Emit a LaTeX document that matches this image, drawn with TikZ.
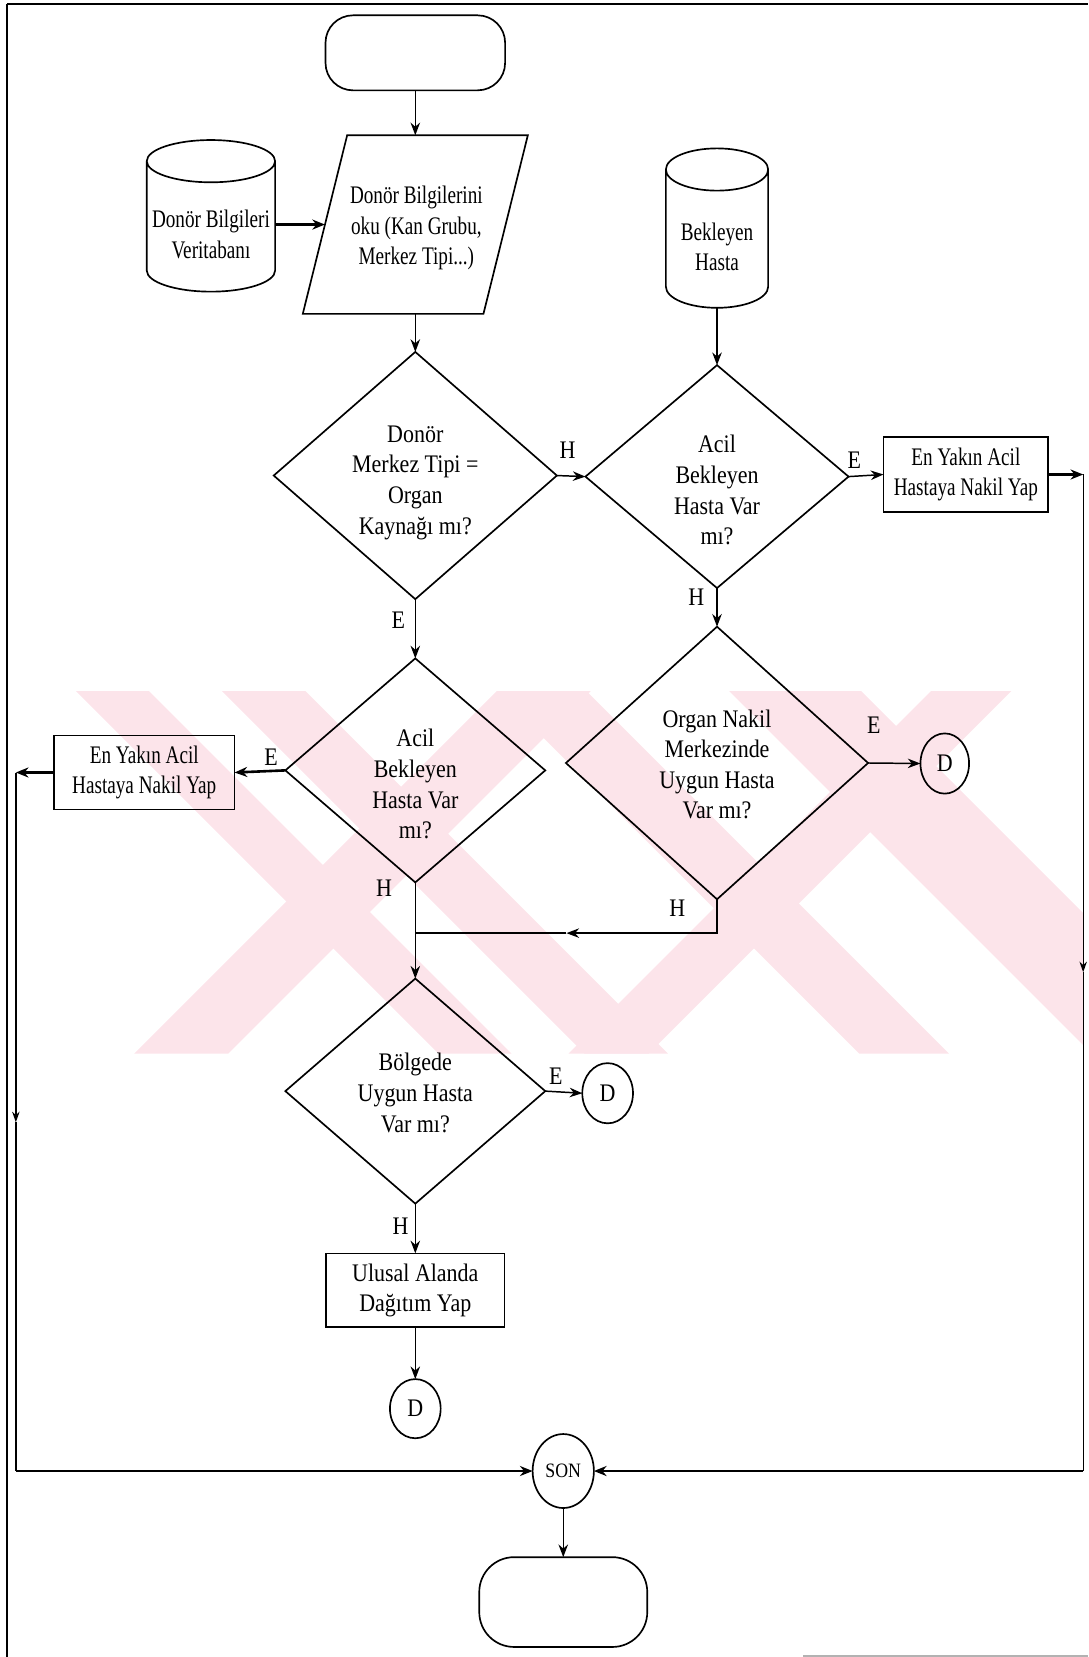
\documentclass[tikz,border=0pt]{standalone}
\usepackage{fontspec}
\setmainfont{Liberation Serif}
\newfontfamily\condA[FakeStretch=0.87]{Liberation Serif}
\newfontfamily\condB[FakeStretch=0.76]{Liberation Serif}
\usetikzlibrary{shapes.geometric, arrows.meta}
\definecolor{wmark}{RGB}{252,228,234}

\begin{document}
\begin{tikzpicture}[x=0.02cm, y=-0.02cm,
  every node/.style={inner sep=0pt, outer sep=0pt},
  shp/.style={draw, line width=0.9pt},
  dec/.style={shp, diamond},
  box/.style={shp, rectangle},
  term/.style={shp, rectangle},
  conn/.style={shp, ellipse, font=\condA\fontsize{13.6}{16.5}\selectfont},
  txt/.style={font=\condA\fontsize{13.6}{16.5}\selectfont, align=center},
  txtn/.style={font=\condB\fontsize{13.6}{16.5}\selectfont, align=center},
  lbl/.style={font=\condA\fontsize{13.6}{16.5}\selectfont},
  line/.style={line width=0.8pt},
  arr/.style={line width=0.8pt, -{Stealth[length=2.4mm,width=1.8mm]}},
  heavy/.style={line width=1.4pt, -{Stealth[length=2.4mm,width=1.9mm]}},
  rail/.style={line width=0.7pt},
  railarr/.style={line width=0.7pt, -{Stealth[length=2mm,width=1.4mm]}},
  band/.style={fill=wmark}
]
\useasboundingbox (0,0) rectangle (1030,1568);

% watermark: diagonal bands at 45 degrees, top span given, cut to a strip
\begin{scope}
  \clip (70,654) rectangle (1025,997);
  % falling bands
  \foreach \a/\b in {72/141, 210/289, 470/555, 690/815}
    \fill[band] (\a,654) -- (\b,654) -- (\b+343,997) -- (\a+343,997) -- cycle;
  % rising bands
  \foreach \a/\b in {470/559, 881/957}
    \fill[band] (\a,654) -- (\b,654) -- (\b-343,997) -- (\a-343,997) -- cycle;
\end{scope}

% page frame
\draw[line width=1.6pt] (6.6,3.8) -- (1030,3.8);
\draw[line width=0.8pt] (6.6,3.8) -- (6.6,1568);
\draw[gray!60, line width=0.8pt] (760,1567) -- (1030,1567);

% terminals
\node[term, rounded corners=5.2mm, minimum width=34mm, minimum height=14.2mm] (start) at (393,50) {};
\node[term, rounded corners=6.6mm, minimum width=31.8mm, minimum height=17mm] (stop) at (533,1516) {};

% input parallelogram
\node[minimum width=34.2mm, minimum height=33.8mm] (para) at (393,212.5) {};
\draw[shp] ([xshift=-4.2mm]para.south west) -- ([xshift=-4.2mm]para.south east)
  -- ([xshift=4.2mm]para.north east) -- ([xshift=4.2mm]para.north west) -- cycle;
\node[txtn] (parat) at (394,216) {Donör Bilgilerini\\oku (Kan Grubu,\\Merkez Tipi...)};

% databases
\node[minimum width=24.3mm, minimum height=28.7mm] (db) at (199.6,204.25) {};
\draw[shp] ([yshift=-4mm]db.north west) -- ([yshift=4mm]db.south west)
  arc[start angle=180, end angle=360, x radius=12.15mm, y radius=4mm]
  -- ([yshift=-4mm]db.north east)
  arc[start angle=0, end angle=360, x radius=12.15mm, y radius=4mm];
\node[txtn] (dbt) at (199.6,222) {Donör Bilgileri\\Veritabanı};

\node[minimum width=19.36mm, minimum height=30.18mm] (bh) at (678.5,215.85) {};
\draw[shp] ([yshift=-4mm]bh.north west) -- ([yshift=4mm]bh.south west)
  arc[start angle=180, end angle=360, x radius=9.68mm, y radius=4mm]
  -- ([yshift=-4mm]bh.north east)
  arc[start angle=0, end angle=360, x radius=9.68mm, y radius=4mm];
\node[txtn] (bht) at (678.5,233.5) {Bekleyen\\Hasta};

% decisions
\node[dec, minimum width=53.6mm, minimum height=46.8mm] (d1) at (393,450) {};
\node[txt] (d1t) at (393,456.8) {Donör\\Merkez Tipi =\\Organ\\Kaynağı mı?};

\node[dec, minimum width=49.8mm, minimum height=42.2mm] (d2) at (678.5,451) {};
\node[txt] (d2t) at (678.5,464) {Acil\\Bekleyen\\Hasta Var\\mı?};

\node[dec, minimum width=49.2mm, minimum height=42.4mm] (d3) at (393,729) {};
\node[txt] (d3t) at (393,742) {Acil\\Bekleyen\\Hasta Var\\mı?};

\node[dec, minimum width=57.2mm, minimum height=51.6mm] (d4) at (678.5,722) {};
\node[txt] (d4t) at (678.5,723.4) {Organ Nakil\\Merkezinde\\Uygun Hasta\\Var mı?};

\node[dec, minimum width=49.2mm, minimum height=42.6mm] (d5) at (393,1032.5) {};
\node[txt] (d5t) at (393,1034.2) {Bölgede\\Uygun Hasta\\Var mı?};

% process boxes
\node[box, txtn, minimum width=31.2mm, minimum height=14.2mm] (rbox) at (914,449) {En Yakın Acil\\Hastaya Nakil Yap};
\node[box, txtn, minimum width=34.2mm, minimum height=14mm] (lbox) at (136.5,731) {En Yakın Acil\\Hastaya Nakil Yap};
\node[box, txt, minimum width=33.8mm, minimum height=14mm] (ubox) at (393,1221) {Ulusal Alanda\\Dağıtım Yap};

% connectors
\node[conn, minimum width=9.2mm, minimum height=11.4mm] (c1) at (894,722.5) {D};
\node[conn, minimum width=9.6mm, minimum height=11.4mm] (c2) at (575,1034.5) {D};
\node[conn, minimum width=9.6mm, minimum height=11.2mm] (c3) at (393,1333) {D};
\node[shp, ellipse, minimum width=11.6mm, minimum height=14mm, font=\condA\fontsize{11}{13}\selectfont] (son) at (533,1392) {SON};

% flow
\draw[arr] (start.south) -- (para.north);
\draw[heavy] (para.west -| db.east) -- (para.west);
\draw[arr] (para.south) -- (d1.north);
\draw[arr] (bh.south) -- (d2.north);

\draw[arr] (d1.east) -- (d2.west);
\node[lbl] (h1) at (537,426) {H};
\draw[arr] (d2.east) -- (rbox.west);
\node[lbl] (e2) at (808.5,435.5) {E};

\draw[arr] (d1.south) -- (d3.north);
\node[lbl] (e1) at (377,587) {E};
\draw[arr] (d2.south) -- (d4.north);
\node[lbl] (h2) at (659,565) {H};

\draw[heavy] (d3.west) -- (lbox.east);
\node[lbl] (e3) at (256.5,716.5) {E};
\draw[arr] (d4.east) -- (c1.west);
\node[lbl] (e4) at (827,686) {E};

% H branch of the organ-centre test joins the main line
\coordinate (j4) at (678.5,883);
\coordinate (jm) at (536,883);
\coordinate (j3) at (393,883);
\draw[arr] (d4.south) -- (j4) -- (jm);
\draw[line] (jm) -- (j3);
\node[lbl] (h4) at (641,859.6) {H};

\draw[arr] (d3.south) -- (d5.north);
\node[lbl] (h3) at (363.5,840.5) {H};

\draw[arr] (d5.east) -- (c2.west);
\node[lbl] (e5) at (526,1018) {E};
\draw[arr] (d5.south) -- (ubox.north);
\node[lbl] (h5) at (379,1160) {H};
\draw[arr] (ubox.south) -- (c3.north);

% right rail to the end node
\coordinate (rt) at (1025,449);
\coordinate (rm) at (1025,920);
\draw[heavy] (rbox.east) -- (rt);
\draw[railarr] (rt) -- (rm);
\draw[rail] (rm) -- (rt |- son.east);
\draw[line width=1.2pt, -{Stealth[length=2.4mm,width=1.9mm]}] (rt |- son.east) -- (son.east);

% left rail to the end node
\coordinate (lt) at (15,731);
\coordinate (lm) at (15,1062);
\draw[heavy] (lbox.west) -- (lt);
\draw[railarr] (lt) -- (lm);
\draw[rail] (lm) -- (lt |- son.west);
\draw[line width=1.2pt, -{Stealth[length=2.4mm,width=1.9mm]}] (lt |- son.west) -- (son.west);

\draw[arr] (son.south) -- (stop.north);
\end{tikzpicture}
\end{document}
